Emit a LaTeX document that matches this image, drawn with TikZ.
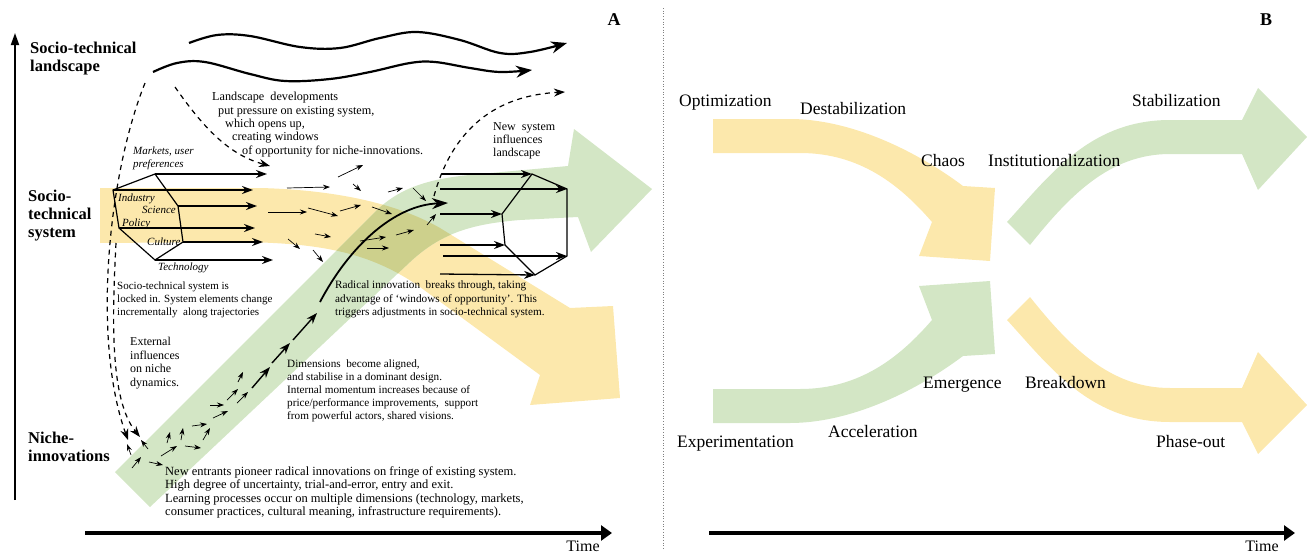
\documentclass[tikz,border=0pt]{standalone}
\usepackage{fontspec}
\setmainfont{Liberation Serif}
\usetikzlibrary{arrows.meta}
\definecolor{regime}{HTML}{FCE8AC}
\definecolor{nichegreen}{HTML}{D3E6C5}
\definecolor{overlap}{HTML}{CDD08C}

\begin{document}
\begin{tikzpicture}[
  x=1pt, y=-1pt,
  >=Stealth,
  every node/.style={inner sep=0pt},
  lbl/.style={font=\fontsize{16.5}{18}\selectfont\bfseries, align=left, anchor=north west},
  note/.style={font=\fontsize{11.5}{13.2}\selectfont, align=left, anchor=north west},
  elem/.style={font=\fontsize{11}{13}\selectfont\itshape, anchor=base west},
  phase/.style={font=\fontsize{17.5}{20}\selectfont, anchor=base west},
  panel/.style={font=\fontsize{18}{20}\selectfont\bfseries},
  wave/.style={line width=2.2pt, -{Stealth[length=16pt,width=12pt]}},
  dasharr/.style={line width=1.2pt, dash pattern=on 5pt off 4.5pt, -{Stealth[length=11pt,width=8pt]}},
  elemarr/.style={line width=1.3pt, -{Stealth[length=11pt,width=8pt]}},
  thinarr/.style={line width=0.7pt, -{Stealth[length=7pt,width=5pt]}},
  trajarr/.style={line width=1.4pt, -{Stealth[length=11pt,width=8pt]}},
  hexa/.style={line width=1.2pt, line join=miter},
  timeaxis/.style={line width=4.5pt, -{Triangle[length=11pt,width=15pt]}},
  mirror/.style={shift={(0,271)}, yscale=-1, shift={(0,-271)}}
]
\useasboundingbox (0,0) rectangle (1309,554);

% panel A: regime and niche bands
\fill[regime] (100,188) -- (260,188) .. controls (340,190) and (400,205) .. (440,228) -- (570,308) -- (613,306) -- (620,398) -- (530,405) -- (540,375) -- (420,287) .. controls (370,252) and (320,243) .. (240,242) -- (100,243) -- cycle;
\fill[nichegreen] (115,472) -- (375,212) .. controls (400,187) and (430,178) .. (480,174) -- (568,166) -- (574,129) -- (652,189) -- (591,252) -- (578,217) -- (520,220) .. controls (470,224) and (440,234) .. (410,262) -- (150,507) -- cycle;
\begin{scope}
\clip (100,188) -- (260,188) .. controls (340,190) and (400,205) .. (440,228) -- (570,308) -- (613,306) -- (620,398) -- (530,405) -- (540,375) -- (420,287) .. controls (370,252) and (320,243) .. (240,242) -- (100,243) -- cycle;
\fill[overlap] (115,472) -- (375,212) .. controls (400,187) and (430,178) .. (480,174) -- (568,166) -- (574,129) -- (652,189) -- (591,252) -- (578,217) -- (520,220) .. controls (470,224) and (440,234) .. (410,262) -- (150,507) -- cycle;
\end{scope}

% axes
\draw[line width=1.8pt, -{Triangle[length=12pt,width=8pt]}] (15,500) -- (15,33);
\draw[timeaxis] (85,533) -- (612,533);
\node[font=\fontsize{16}{18}\selectfont] (timeA) at (583,546) {Time};
\draw[gray, dotted, line width=0.7pt] (663,8) -- (663,550);
\node[panel] (panelA) at (614,20) {A};

% levels
\node[lbl] (landscape) at (30,42) {Socio-technical\\landscape};
\node[lbl] (regimelbl) at (28,190) {Socio-\\technical\\system};
\node[lbl] (nichelbl) at (28,432) {Niche-\\innovations};

% landscape waves
\draw[wave] plot[smooth, tension=0.6] coordinates {(189,43) (217,35) (250,36) (300,47) (340,48) (380,38) (417,32) (460,40) (500,53) (530,52) (567,43)};
\draw[wave] plot[smooth, tension=0.6] coordinates {(153,72) (177,63) (205,62) (250,74) (285,81) (330,79) (370,72) (410,63) (435,62) (470,68) (500,72) (532,70)};

% dashed influences
\draw[dasharr] (175,87) .. controls (205,130) and (230,155) .. (270,166);
\draw[dasharr] (145,83) .. controls (108,175) and (92,340) .. (128,440);
\draw[dasharr] (116,243) .. controls (112,320) and (110,400) .. (140,437);
\draw[dasharr] (434,196) .. controls (455,120) and (505,95) .. (565,92);

% socio-technical system (left)
\coordinate (st-top) at (155,174);
\coordinate (st-rt) at (178,206);
\coordinate (st-rb) at (183,242);
\coordinate (st-bot) at (155,260);
\coordinate (st-lb) at (119,228);
\coordinate (st-lt) at (113,190);
\draw[hexa] (st-top) -- (st-rt) -- (st-rb) -- (st-bot) -- (st-lb) -- (st-lt) -- cycle;
\draw[elemarr] (st-top) -- ++(112,0);
\draw[elemarr] (st-lt) -- ++(140,0);
\draw[elemarr] (st-rt) -- ++(79,0);
\draw[elemarr] (st-lb) -- ++(136,0);
\draw[elemarr] (st-rb) -- ++(80,0);
\draw[elemarr] (st-bot) -- ++(118,0);
\node[elem, align=left, anchor=north west] (markets) at (133,147) {Markets, user\\preferences};
\node[elem] (industry) at (118,201) {Industry};
\node[elem] (science) at (142,213) {Science};
\node[elem] (policy) at (122,226) {Policy};
\node[elem] (culture) at (147,245) {Culture};
\node[elem] (technology) at (158,270) {Technology};

% new socio-technical system (right)
\coordinate (ns-top) at (532,174);
\coordinate (ns-rt) at (567,189);
\coordinate (ns-rb) at (567,256);
\coordinate (ns-bot) at (535,275);
\coordinate (ns-lb) at (505,245);
\coordinate (ns-lt) at (502,214);
\draw[hexa] (ns-top) -- (ns-rt) -- (ns-rb) -- (ns-bot) -- (ns-lb) -- (ns-lt) -- cycle;
\draw[elemarr] (442,174) -- (ns-top);
\draw[elemarr] (440,189) -- (ns-rt);
\draw[elemarr] (440,214) -- (ns-lt);
\draw[elemarr] (440,245) -- (ns-lb);
\draw[elemarr] (443,256) -- (ns-rb);
\draw[elemarr] (440,274) -- (ns-bot);

% loose elements between the two systems
\draw[thinarr] (287,188) -- (330,187);
\draw[thinarr] (338,177) -- (363,165);
\draw[thinarr] (353,184) -- (361,191);
\draw[thinarr] (268,212) -- (307,212);
\draw[thinarr] (308,208) -- (338,216);
\draw[thinarr] (340,211) -- (361,205);
\draw[thinarr] (372,207) -- (392,214);
\draw[thinarr] (388,192) -- (403,188);
\draw[thinarr] (413,188) -- (426,201);
\draw[thinarr] (288,239) -- (300,249);
\draw[thinarr] (313,250) -- (323,262);
\draw[thinarr] (315,234) -- (331,237);
\draw[thinarr] (360,241) -- (386,237);
\draw[thinarr] (367,248) -- (389,248);
\draw[thinarr] (396,235) -- (414,230);
\draw[thinarr] (427,225) -- (436,214);

% niche trajectory
\draw[thinarr] (132,468) -- (141,457);
\draw[thinarr] (149,462) -- (163,465);
\draw[thinarr] (131,455) -- (127,444);
\draw[thinarr] (148,449) -- (141,440);
\draw[thinarr] (161,456) -- (177,446);
\draw[thinarr] (167,443) -- (170,432);
\draw[thinarr] (181,440) -- (183,428);
\draw[thinarr] (185,446) -- (201,448);
\draw[thinarr] (192,426) -- (207,424);
\draw[thinarr] (203,440) -- (210,428);
\draw[thinarr] (213,418) -- (228,411);
\draw[thinarr] (210,405) -- (224,405);
\draw[thinarr] (227,400) -- (238,389);
\draw[thinarr] (238,382) -- (243,372);
\draw[thinarr] (237,403) -- (248,392);
\draw[trajarr] (252,388) -- (270,367);
\draw[trajarr] (272,363) -- (290,343);
\draw[trajarr] (293,340) -- (317,313);
\draw[line width=1.8pt, -{Stealth[length=16pt,width=11pt]}] (320,302) .. controls (350,245) and (395,205) .. (448,203);

% panel A notes
\node[note, font=\fontsize{12.2}{13.4}\selectfont] (pressure) at (212,92) {Landscape\ \ developments\\\hspace*{6pt}put pressure on existing system,\\\hspace*{13pt}which opens up,\\\hspace*{20pt}creating windows\\\hspace*{30pt}of opportunity for niche-innovations.};
\node[note, font=\fontsize{12}{13.2}\selectfont] (influence) at (493,122) {New\ \ system\\influences\\landscape};
\node[note, font=\fontsize{11}{13}\selectfont] (lockedin) at (117,282) {Socio-technical system is\\locked in. System elements change\\incrementally\ \ along trajectories};
\node[note, font=\fontsize{12}{13.5}\selectfont] (external) at (130,337) {External\\influences\\on niche\\dynamics.};
\node[note, font=\fontsize{11.2}{13.5}\selectfont] (breakthrough) at (335,281) {Radical innovation\ \ breaks through, taking\\advantage of `windows of opportunity'. This\\triggers adjustments in socio-technical system.};
\node[note, font=\fontsize{11.2}{13}\selectfont] (aligned) at (287,360) {Dimensions\ \ become aligned,\\and stabilise in a dominant design.\\Internal momentum increases because of\\price/performance improvements,\ \ support\\from powerful actors, shared visions.};
\node[note, font=\fontsize{12.5}{13.5}\selectfont] (entrants) at (165,466) {New entrants pioneer radical innovations on fringe of existing system.\\High degree of uncertainty, trial-and-error, entry and exit.\\Learning processes occur on multiple dimensions (technology, markets,\\consumer practices, cultural meaning, infrastructure requirements).};

% panel B: transition curves
\fill[regime] (713,119) -- (790,119) .. controls (850,119) and (915,150) .. (963,186) -- (995,188) -- (990,261) -- (919,256) -- (932,222) .. controls (900,185) and (860,153) .. (800,153) -- (713,153) -- cycle;
\fill[nichegreen, mirror] (713,119) -- (790,119) .. controls (850,119) and (915,150) .. (963,186) -- (995,188) -- (990,261) -- (919,256) -- (932,222) .. controls (900,185) and (860,153) .. (800,153) -- (713,153) -- cycle;
\fill[nichegreen] (1007,222) .. controls (1050,175) and (1090,120) .. (1170,120) -- (1242,120) -- (1258,88) -- (1307,137) -- (1258,190) -- (1242,154) -- (1170,154) .. controls (1110,154) and (1070,195) .. (1030,245) -- cycle;
\fill[regime, mirror] (1007,222) .. controls (1050,175) and (1090,120) .. (1170,120) -- (1242,120) -- (1258,88) -- (1307,137) -- (1258,190) -- (1242,154) -- (1170,154) .. controls (1110,154) and (1070,195) .. (1030,245) -- cycle;

\node[panel] (panelB) at (1266,20) {B};
\node[phase] (optim) at (679,106) {Optimization};
\node[phase] (destab) at (800,114) {Destabilization};
\node[phase] (chaos) at (921,166) {Chaos};
\node[phase] (instit) at (988,166) {Institutionalization};
\node[phase] (stabil) at (1132,106) {Stabilization};
\node[phase] (emerg) at (923,388) {Emergence};
\node[phase] (breakd) at (1025,388) {Breakdown};
\node[phase] (experim) at (677,447) {Experimentation};
\node[phase] (accel) at (828,437) {Acceleration};
\node[phase] (phaseout) at (1156,447) {Phase-out};

\draw[timeaxis] (709,533) -- (1295,533);
\node[font=\fontsize{16}{18}\selectfont] (timeB) at (1262,546) {Time};
\end{tikzpicture}
\end{document}
